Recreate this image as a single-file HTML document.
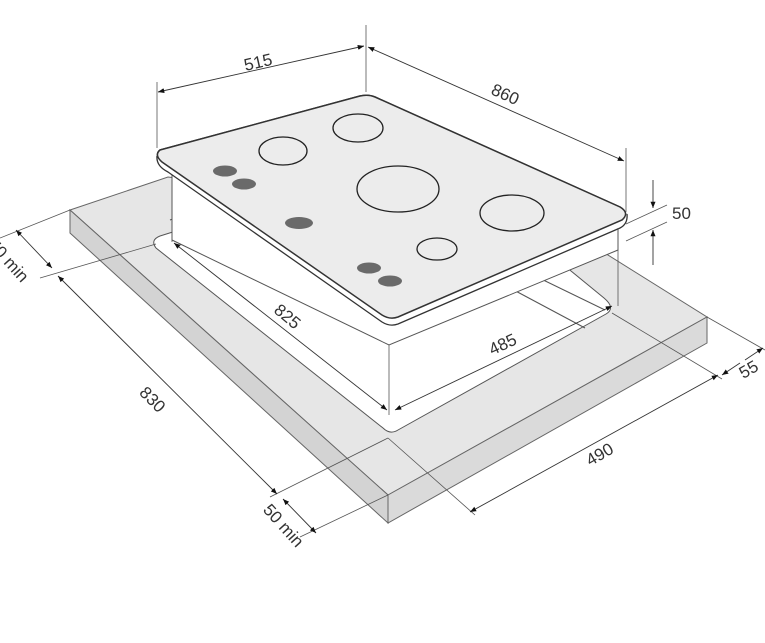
<!DOCTYPE html>
<html><head><meta charset="utf-8"><style>
html,body{margin:0;padding:0;background:#fff;width:765px;height:643px;overflow:hidden}
svg{display:block}
text{font-family:"Liberation Sans Narrow","Liberation Sans",sans-serif;font-size:17px;fill:#333}
</style></head><body>
<svg width="765" height="643" viewBox="0 0 765 643" xmlns="http://www.w3.org/2000/svg">
<defs>
<marker id="a" viewBox="0 0 10 10" refX="10" refY="5" markerWidth="7" markerHeight="7" orient="auto-start-reverse"><path d="M0,1 L10,5 L0,9z" fill="#111"/></marker>
</defs>
<!-- slab -->
<polygon points="70,210 168,177 560,225 707,317 388,495" fill="#e6e6e6" stroke="#666" stroke-width="1"/>
<polygon points="70,210 388,495 388,523 70,233" fill="#d3d3d3" stroke="#666" stroke-width="1"/>
<polygon points="388,495 707,317 707,343 388,523" fill="#dadada" stroke="#666" stroke-width="1"/>
<!-- cutout -->
<path d="M160,236 L230,214 L560,262 L604,298 Q616,308 606,314 L398,430 Q390,435 383,428 L156,248 Q150,240 160,236z" fill="#fff" stroke="#555" stroke-width="1"/>
<line x1="170" y1="220" x2="204" y2="207" stroke="#555" stroke-width="1"/>
<line x1="180" y1="245" x2="222" y2="230" stroke="#555" stroke-width="1"/>
<line x1="510" y1="288" x2="585" y2="328" stroke="#555" stroke-width="1"/>
<line x1="535" y1="276" x2="605" y2="310" stroke="#555" stroke-width="1"/>
<!-- hob box -->
<polygon points="172,170 618,225 618,250 389,345 172,240" fill="#fff" stroke="#555" stroke-width="1"/>
<!-- plate -->
<path d="M160,150 L360,96 Q368,94 375,97 L620,207 Q630,213 622,220 L398,317 Q390,320 382,315 L162,162 Q154,155 160,150z" fill="#ececec" stroke="#333" stroke-width="1.5"/>
<path d="M157,156 Q156,166 168,172 L382,322 Q390,327 398,324 L620,228 Q628,224 627,214" fill="#fff" stroke="#333" stroke-width="1.3"/>
<path d="M160,150 L360,96 Q368,94 375,97 L620,207 Q630,213 622,220 L398,317 Q390,320 382,315 L162,162 Q154,155 160,150z" fill="#ececec" stroke="#333" stroke-width="1.5"/>
<!-- burners -->
<g fill="none" stroke="#222" stroke-width="1.3">
<ellipse cx="283" cy="151" rx="24" ry="14"/>
<ellipse cx="358" cy="128" rx="25" ry="14"/>
<ellipse cx="398" cy="189" rx="41" ry="23"/>
<ellipse cx="512" cy="213" rx="32" ry="18"/>
<ellipse cx="437" cy="249" rx="20" ry="11"/>
</g>
<g fill="#6a6a6a">
<ellipse cx="225" cy="171" rx="12" ry="5.5"/>
<ellipse cx="244" cy="184" rx="12" ry="5.5"/>
<ellipse cx="299" cy="223" rx="14" ry="6"/>
<ellipse cx="369" cy="268" rx="12" ry="5.5"/>
<ellipse cx="390" cy="281" rx="12" ry="5.5"/>
</g>
<!-- extension lines -->
<g stroke="#555" stroke-width="0.8" fill="none">
<line x1="157" y1="82" x2="157" y2="148"/>
<line x1="366" y1="25" x2="366" y2="92"/>
<line x1="626" y1="148" x2="626" y2="212"/>
<line x1="172" y1="178" x2="172" y2="242"/>
<line x1="618" y1="228" x2="618" y2="306"/>
<line x1="389" y1="345" x2="389" y2="415"/>
<line x1="626" y1="224" x2="667" y2="205"/>
<line x1="626" y1="241" x2="667" y2="222"/>
<line x1="70" y1="210" x2="0" y2="238"/>
<line x1="156" y1="244" x2="40" y2="278"/>
<line x1="388" y1="438" x2="270" y2="497"/>
<line x1="388" y1="495" x2="300" y2="537"/>
<line x1="388" y1="438" x2="475" y2="515"/>
<line x1="707" y1="317" x2="765" y2="350"/>
<line x1="612" y1="313" x2="722" y2="379"/>
</g>
<!-- dimension lines -->
<g stroke="#333" stroke-width="0.9" fill="none" marker-start="url(#a)" marker-end="url(#a)">
<line x1="158" y1="92" x2="364" y2="46"/>
<line x1="368" y1="47" x2="624" y2="161"/>
<line x1="174" y1="243" x2="387" y2="410"/>
<line x1="395" y1="410" x2="612" y2="306"/>
<line x1="16" y1="230" x2="52" y2="268"/>
<line x1="58" y1="276" x2="277" y2="494"/>
<line x1="283" y1="499" x2="316" y2="533"/>
<line x1="470" y1="512" x2="718" y2="375"/>
</g>
<g stroke="#333" stroke-width="0.9" fill="none" marker-end="url(#a)">
<line x1="653" y1="180" x2="653" y2="208"/>
<line x1="653" y1="265" x2="653" y2="230"/>
<line x1="740" y1="363" x2="722" y2="375"/>
<line x1="745" y1="360" x2="763" y2="348"/>
</g>
<!-- labels -->
<text x="258" y="68" transform="rotate(-13 258 62)" text-anchor="middle">515</text>
<text x="505" y="100" transform="rotate(24 505 95)" text-anchor="middle">860</text>
<text x="672" y="219">50</text>
<text x="287" y="322" transform="rotate(40 287 317)" text-anchor="middle">825</text>
<text x="503" y="350" transform="rotate(-25 503 345)" text-anchor="middle">485</text>
<text x="152" y="405" transform="rotate(45 152 400)" text-anchor="middle">830</text>
<text x="8" y="266" transform="rotate(48 8 261)" text-anchor="middle">50 min</text>
<text x="283" y="531" transform="rotate(48 283 526)" text-anchor="middle">50 min</text>
<text x="600" y="460" transform="rotate(-30 600 455)" text-anchor="middle">490</text>
<text x="749" y="375" transform="rotate(-30 749 370)" text-anchor="middle">55</text>
</svg>
</body></html>
